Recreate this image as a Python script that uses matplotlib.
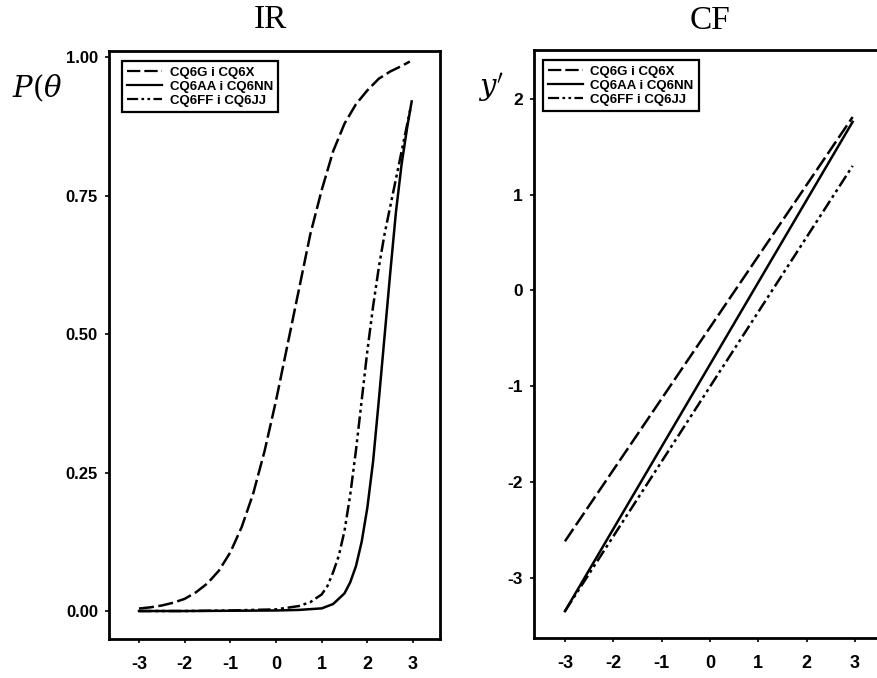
import matplotlib
matplotlib.use("Agg")
import matplotlib.pyplot as plt
from matplotlib.lines import Line2D

# ---- data ----
labels = ["CQ6G i CQ6X", "CQ6AA i CQ6NN", "CQ6FF i CQ6JJ"]

theta_g = [-3, -2.75, -2.5, -2.25, -2, -1.75, -1.5, -1.25, -1, -0.75, -0.5, -0.25, 0, 0.25,
           0.5, 0.75, 1, 1.25, 1.5, 1.75, 2, 2.25, 2.5, 2.75, 2.93]
p_g = [0.0045, 0.0067, 0.010, 0.015, 0.022, 0.034, 0.050, 0.073, 0.106, 0.152, 0.212, 0.289,
       0.38, 0.48, 0.58, 0.68, 0.76, 0.83, 0.88, 0.915, 0.94, 0.961, 0.974, 0.984, 0.992]

theta_aa = [-3, -2, -1, 0, 0.5, 1, 1.25, 1.5, 1.625, 1.75, 1.875, 2, 2.125, 2.25, 2.375,
            2.5, 2.625, 2.75, 2.875, 2.97]
p_aa = [0.0, 0.0, 0.0005, 0.001, 0.002, 0.0048, 0.0126, 0.032, 0.052, 0.081, 0.125, 0.187,
        0.27, 0.38, 0.495, 0.61, 0.72, 0.807, 0.875, 0.92]

theta_ff = [-3, -2, -1, 0, 0.5, 0.75, 1, 1.125, 1.25, 1.375, 1.5, 1.625, 1.75, 1.875, 2,
            2.125, 2.25, 2.375, 2.5, 2.625, 2.75, 2.875, 2.95]
p_ff = [0.0, 0.0, 0.001, 0.003, 0.009, 0.016, 0.03, 0.045, 0.07, 0.10, 0.145, 0.21, 0.29,
        0.38, 0.47, 0.55, 0.62, 0.68, 0.73, 0.78, 0.83, 0.88, 0.91]

theta_cf = [-3, 2.95]
y_g = [-2.62, 1.81]
y_aa = [-3.35, 1.76]
y_ff = [-3.35, 1.30]

left_yticks = [0.0, 0.25, 0.5, 0.75, 1.0]
left_yticklabels = ["0.00", "0.25", "0.50", "0.75", "1.00"]
xticks = [-3, -2, -1, 0, 1, 2, 3]
right_yticks = [-3, -2, -1, 0, 1, 2]

# ---- styles ----
W, H = 877, 678
fig = plt.figure(figsize=(W / 100, H / 100), dpi=100)
fig.patch.set_facecolor("white")

lw = 1.8
dash_style = (0, (6, 1.8))
dashdot_style = (0, (5, 1.5, 1.2, 1.5, 1.2, 1.5))
styles = [dash_style, "-", dashdot_style]

tick_font = dict(family="Liberation Sans", weight="bold")


def px_axes(left, top, right, bottom):
    return fig.add_axes([left / W, 1 - bottom / H, (right - left) / W, (bottom - top) / H])


ax1 = px_axes(109, 51, 440, 639)
ax2 = px_axes(534, 50, 886, 638)

# left panel
for t, p, ls in zip([theta_g, theta_aa, theta_ff], [p_g, p_aa, p_ff], styles):
    ax1.plot(t, p, color="black", lw=lw, linestyle=ls)
ax1.set_xlim(-3.657, 3.59)
ax1.set_ylim(-0.0505, 1.011)
ax1.set_yticks(left_yticks)
ax1.set_yticklabels(left_yticklabels, fontsize=12, **tick_font)
ax1.set_xticks(xticks)
ax1.set_xticklabels([str(v) for v in xticks], fontsize=13, **tick_font)

# right panel
for y, ls in zip([y_g, y_aa, y_ff], styles):
    ax2.plot(theta_cf, y, color="black", lw=lw, linestyle=ls)
ax2.set_xlim(-3.64, 3.64)
ax2.set_ylim(-3.63, 2.51)
ax2.set_yticks(right_yticks)
ax2.set_yticklabels([str(v) for v in right_yticks], fontsize=12.5, **tick_font)
ax2.set_xticks(xticks)
ax2.set_xticklabels([str(v) for v in xticks], fontsize=13, **tick_font)

for ax in (ax1, ax2):
    for s in ax.spines.values():
        s.set_linewidth(2.0)
    ax.tick_params(direction="out", length=3, width=1.2)
    ax.tick_params(axis="x", pad=9.5)
    handles = [Line2D([0], [0], color="black", lw=1.6, linestyle=ls) for ls in styles]
    x0 = 13 / 331 if ax is ax1 else 9 / 352
    leg = ax.legend(handles, labels, loc="upper left",
                    bbox_to_anchor=(x0, 1 - 10 / 588),
                    borderaxespad=0, fancybox=False, framealpha=1,
                    edgecolor="black", handlelength=2.6, handletextpad=0.6,
                    labelspacing=0.15, borderpad=0.4,
                    prop=dict(family="Liberation Sans", weight="bold", size=9.5))
    leg.get_frame().set_linewidth(1.6)

ax1.tick_params(axis="y", pad=5)
ax2.tick_params(axis="y", pad=5)

fig.text(270 / W, 1 - 20 / H, "IR", ha="center", va="center",
         family="Liberation Serif", fontsize=24)
fig.text(710 / W, 1 - 21 / H, "CF", ha="center", va="center",
         family="Liberation Serif", fontsize=24)
fig.text(37 / W, 1 - 88 / H, r"$P\left(\theta\right.$", ha="center", va="center",
         fontsize=21, math_fontfamily="dejavuserif")
fig.text(491 / W, 1 - 87 / H, r"$y^{\prime}$", ha="center", va="center",
         fontsize=21, math_fontfamily="dejavuserif")

fig.savefig("out.png", dpi=100, facecolor="white")
